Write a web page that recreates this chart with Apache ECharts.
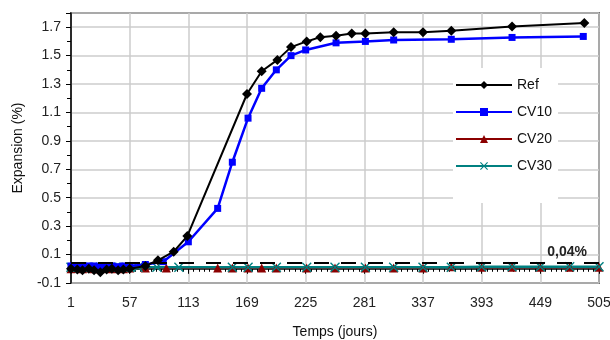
<!DOCTYPE html>
<html>
<head>
<meta charset="utf-8">
<script src="https://cdn.jsdelivr.net/npm/echarts@6/dist/echarts.min.js"></script>
<style>
  html, body { margin: 0; padding: 0; background: #fff; }
  #chart { width: 610px; height: 340px; }
</style>
</head>
<body>
<div id="chart"></div>
<script>
const refDays = [1, 7, 12, 18, 23, 29, 35, 40, 46, 51, 57, 72, 84, 99, 112, 169, 183, 198, 211, 226, 239, 254, 269, 282, 309, 337, 364, 422, 491];
const refVals = [0, -0.005, -0.01, 0, -0.01, -0.025, -0.005, 0, -0.01, -0.005, 0, 0.02, 0.06, 0.12, 0.23, 1.23, 1.39, 1.47, 1.56, 1.6, 1.63, 1.64, 1.655, 1.655, 1.665, 1.665, 1.675, 1.705, 1.73];

const cv10Days = [1, 7, 12, 18, 23, 29, 35, 40, 46, 51, 57, 72, 89, 113, 141, 155, 170, 183, 197, 211, 225, 254, 282, 309, 364, 422, 490];
const cv10Vals = [0.02, 0.02, 0.015, 0.02, 0.02, 0.015, 0.02, 0.02, 0.015, 0.02, 0.02, 0.03, 0.05, 0.19, 0.425, 0.75, 1.06, 1.27, 1.4, 1.5, 1.54, 1.59, 1.6, 1.61, 1.615, 1.628, 1.635];

const cv20Days = [1, 7, 12, 18, 23, 29, 35, 40, 46, 51, 57, 72, 92, 141, 155, 170, 183, 197, 226, 253, 282, 309, 337, 364, 393, 422, 449, 477, 505];
const cv20Vals = [0, 0.005, 0, 0.005, 0, 0, 0.005, 0, 0.005, 0, 0.005, 0.005, 0.005, 0.005, 0.005, 0.005, 0.005, 0.005, 0.005, 0.005, 0.005, 0.005, 0.005, 0.015, 0.01, 0.01, 0.01, 0.01, 0.01];

const cv30Days = [1, 7, 12, 18, 23, 29, 35, 40, 46, 51, 57, 65, 83, 104, 155, 170, 197, 226, 253, 282, 309, 337, 364, 393, 422, 449, 477, 505];
const cv30Vals = [0.01, 0.01, 0.01, 0.01, 0.01, 0.01, 0.01, 0.01, 0.01, 0.01, 0.01, 0.01, 0.01, 0.01, 0.01, 0.01, 0.01, 0.01, 0.01, 0.01, 0.01, 0.01, 0.01, 0.015, 0.015, 0.015, 0.015, 0.015];

const seriesNames = ['Ref', 'CV10', 'CV20', 'CV30'];
const threshold = 0.04;
const thresholdLabel = '0,04%';

const xMin = 1, xMax = 505, xStep = 56;
const yMin = -0.1, yMax = 1.8, yStep = 0.2;

const pairs = (days, vals) => days.map((d, i) => [d, vals[i]]);
const crossPath = 'path://M0,1L1,0L5,4L9,0L10,1L6,5L10,9L9,10L5,6L1,10L0,9L4,5Z';
const font = 'Liberation Sans, Arial, sans-serif';

const chart = echarts.init(document.getElementById('chart'));

chart.setOption({
  animation: false,
  textStyle: { fontFamily: font },
  grid: {
    left: 71, right: 11, top: 13, bottom: 57,
    outerBoundsMode: 'none',
    show: true, borderColor: '#000', borderWidth: 1.5
  },
  legend: {
    data: seriesNames,
    orient: 'vertical',
    left: 453, top: 68,
    backgroundColor: '#fff',
    padding: [10, 6, 30, 2],
    itemWidth: 56, itemHeight: 10, itemGap: 13,
    textStyle: { fontSize: 14, color: '#111', fontFamily: font }
  },
  xAxis: {
    type: 'value',
    min: xMin, max: xMax, interval: xStep,
    name: 'Temps (jours)',
    nameLocation: 'middle', nameGap: 42,
    nameTextStyle: { fontSize: 14, color: '#111' },
    axisLine: { lineStyle: { color: '#000', width: 1.5 } },
    axisTick: { show: true, inside: false, length: 5, lineStyle: { color: '#000' } },
    minorTick: { show: true, splitNumber: 11, length: 3, lineStyle: { color: '#000' } },
    axisLabel: { fontSize: 14, color: '#222', margin: 13 },
    splitLine: { show: true, lineStyle: { color: '#cdcdcd', width: 1.5 } }
  },
  yAxis: {
    type: 'value',
    min: yMin, max: yMax, interval: yStep,
    name: 'Expansion (%)',
    nameLocation: 'middle', nameGap: 46,
    nameTextStyle: { fontSize: 14, color: '#111' },
    axisLine: { show: true, lineStyle: { color: '#000', width: 1.5 } },
    axisTick: { show: true, inside: false, length: 5, lineStyle: { color: '#000' } },
    minorTick: { show: true, splitNumber: 2, length: 4, lineStyle: { color: '#000' } },
    axisLabel: {
      fontSize: 14, color: '#222', margin: 10, showMaxLabel: false,
      formatter: v => v.toFixed(1)
    },
    splitLine: { show: true, lineStyle: { color: '#cdcdcd', width: 1.5 } }
  },
  series: [
    {
      name: 'seuil', type: 'line', data: [],
      silent: true,
      markLine: {
        silent: true,
        symbol: 'none',
        lineStyle: { color: '#000', type: [15, 12], width: 2 },
        label: {
          show: true, position: 'insideEndTop', formatter: thresholdLabel,
          fontSize: 14, fontWeight: 'bold', color: '#222', distance: [12, 4]
        },
        data: [{ yAxis: threshold }]
      }
    },
    {
      name: 'Ref', type: 'line', data: pairs(refDays, refVals),
      color: '#000', symbol: 'diamond', symbolSize: 10,
      lineStyle: { width: 2 }, z: 5
    },
    {
      name: 'CV10', type: 'line', data: pairs(cv10Days, cv10Vals),
      color: '#0000ff', symbol: 'rect', symbolSize: 7,
      lineStyle: { width: 2.5 }, z: 4
    },
    {
      name: 'CV20', type: 'line', data: pairs(cv20Days, cv20Vals),
      color: '#8b0000', symbol: 'triangle', symbolSize: 9,
      lineStyle: { width: 2 }, z: 3
    },
    {
      name: 'CV30', type: 'line', data: pairs(cv30Days, cv30Vals),
      color: '#008080', symbol: crossPath, symbolSize: 10,
      lineStyle: { width: 2.5 }, z: 3
    }
  ]
});
</script>
</body>
</html>
